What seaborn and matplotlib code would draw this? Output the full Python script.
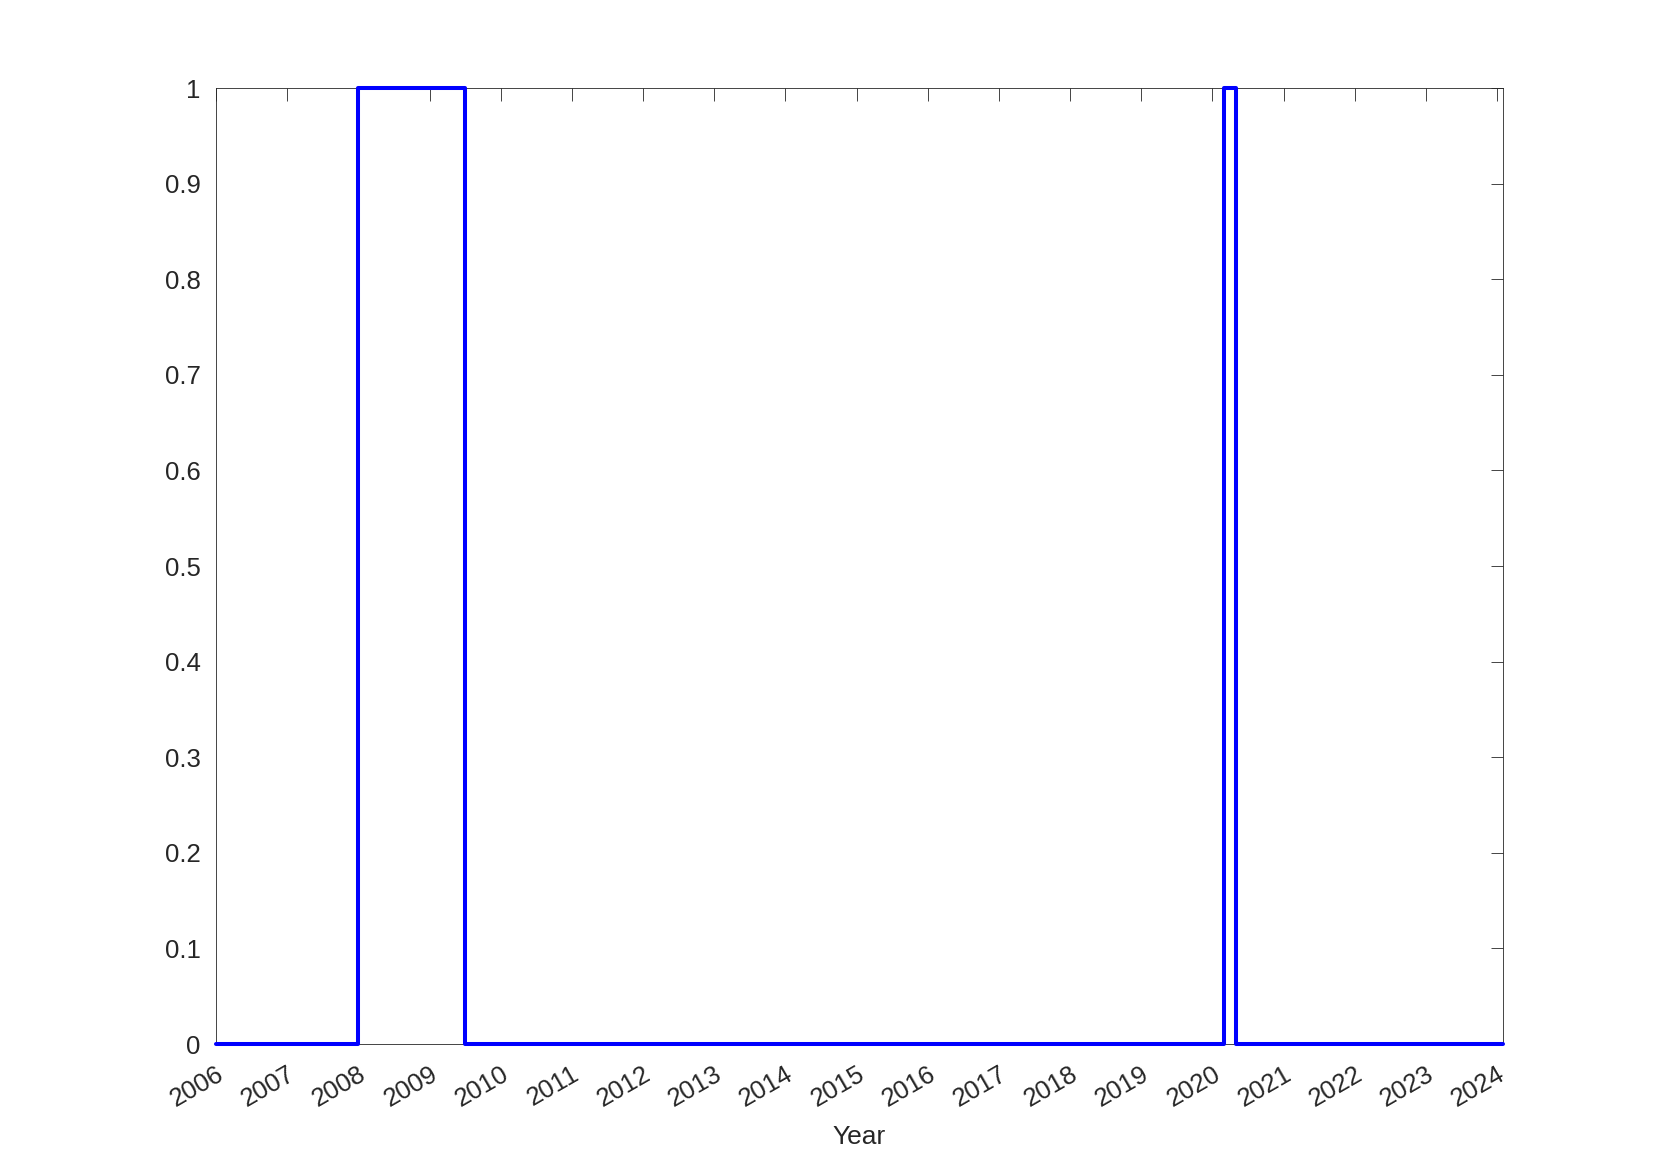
import matplotlib
matplotlib.use("Agg")
import matplotlib.pyplot as plt
import matplotlib.dates as mdates
import matplotlib.ticker as mticker
import pandas as pd
import seaborn as sns

# recession indicator, monthly, drawn as stairs: value holds until the next change date
change_dates = ["2006-01-01", "2008-01-01", "2009-07-01", "2020-03-01", "2020-05-01", "2024-02-01"]
indicator = [0, 1, 0, 1, 0, 0]
y_ticks = [0, 0.1, 0.2, 0.3, 0.4, 0.5, 0.6, 0.7, 0.8, 0.9, 1]
x_label = "Year"

df = pd.DataFrame({"date": pd.to_datetime(change_dates), "rec": indicator})

sns.set_style("white")
plt.rcParams["font.family"] = ["Liberation Sans", "DejaVu Sans"]

fig = plt.figure(figsize=(16.61, 11.74), dpi=100)
ax = fig.add_axes([0.13, 0.1107, 0.775, 0.8143])

sns.lineplot(data=df, x="date", y="rec", ax=ax, color=(0, 0, 1), linewidth=2.9,
             drawstyle="steps-post", legend=False, clip_on=False, zorder=3)

ax.set_xlim(df["date"].iloc[0], df["date"].iloc[-1])
ax.set_ylim(0, 1)
ax.xaxis.set_major_locator(mdates.YearLocator())
ax.xaxis.set_major_formatter(mdates.DateFormatter("%Y"))
ax.set_yticks(y_ticks)
ax.yaxis.set_major_formatter(mticker.FuncFormatter(lambda v, p: f"{v:g}"))

for s in ax.spines.values():
    s.set_visible(True)
    s.set_color("#262626")
    s.set_linewidth(0.6)
ax.tick_params(direction="in", length=9, width=0.6, color="#262626",
               labelsize=18.5, labelcolor="#262626", top=True, right=True)
ax.tick_params(axis="y", pad=11)
ax.tick_params(axis="x", pad=13)
for lab in ax.get_xticklabels():
    lab.set_rotation(30)
    lab.set_ha("right")
    lab.set_va("top")
    lab.set_rotation_mode("anchor")

ax.set_xlabel(x_label, fontsize=19, color="#262626", labelpad=10)
ax.set_ylabel("")

fig.savefig("out.png", dpi=100, facecolor="white")
